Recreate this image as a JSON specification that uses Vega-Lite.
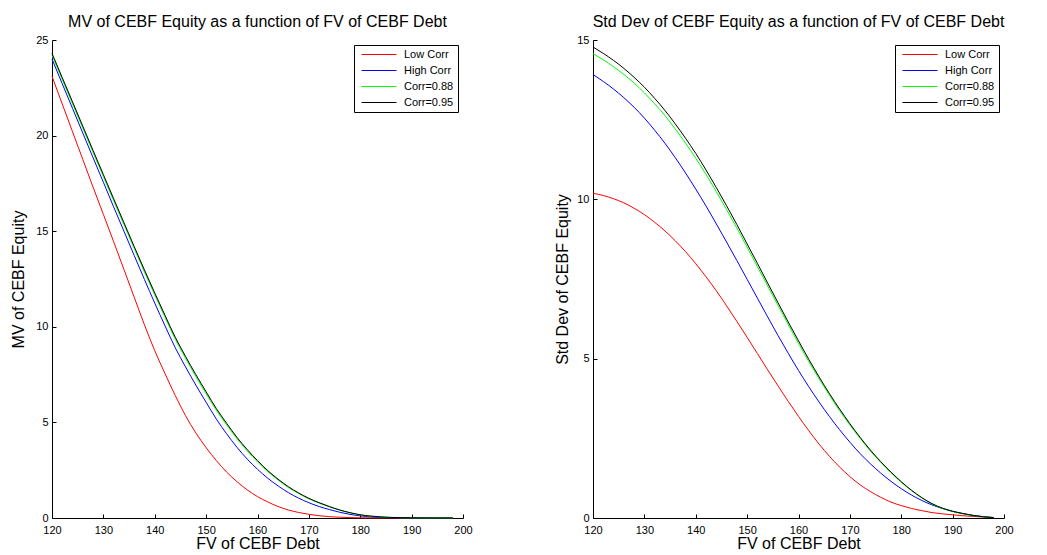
{
"$schema": "https://vega.github.io/schema/vega-lite/v6.json",
"padding": {"left": 10, "top": 14, "right": 0, "bottom": 0},
"background": "white",
"config": {
  "font": "Liberation Sans",
  "view": {"stroke": null},
  "axis": {"domainColor": "black", "tickColor": "black", "labelColor": "black", "titleColor": "black", "grid": false, "labelFont": "Liberation Sans", "labelFontSize": 11, "titleFont": "Liberation Sans", "titleFontSize": 16, "titleFontWeight": "normal", "tickSize": -4, "domainWidth": 1, "tickWidth": 1, "labelFlush": false, "labelOverlap": false},
  "axisX": {"labelPadding": 10, "titlePadding": 0},
  "axisY": {"labelPadding": 8},
  "title": {"fontSize": 16, "fontWeight": "normal", "font": "Liberation Sans", "color": "black", "offset": 4},
  "legend": {"symbolType": "stroke", "symbolSize": 1225, "symbolStrokeWidth": 1, "symbolOffset": 3, "clipHeight": 11, "labelFontSize": 11, "labelFont": "Liberation Sans", "labelColor": "black", "strokeColor": "black", "fillColor": "white", "padding": 4, "offset": 5, "labelOffset": 7, "rowPadding": 4}
},
"datasets": {
"mv": [
{"fv":120,"s":"Low Corr","v":23.1},{"fv":122,"s":"Low Corr","v":21.65},{"fv":124,"s":"Low Corr","v":20.2},{"fv":126,"s":"Low Corr","v":18.75},{"fv":128,"s":"Low Corr","v":17.3},{"fv":130,"s":"Low Corr","v":15.88},{"fv":132,"s":"Low Corr","v":14.45},{"fv":134,"s":"Low Corr","v":13.0},{"fv":136,"s":"Low Corr","v":11.55},{"fv":138,"s":"Low Corr","v":10.1},{"fv":140,"s":"Low Corr","v":8.75},{"fv":142,"s":"Low Corr","v":7.55},{"fv":144,"s":"Low Corr","v":6.4},{"fv":146,"s":"Low Corr","v":5.35},{"fv":148,"s":"Low Corr","v":4.45},{"fv":150,"s":"Low Corr","v":3.68},{"fv":152,"s":"Low Corr","v":3.0},{"fv":154,"s":"Low Corr","v":2.4},{"fv":156,"s":"Low Corr","v":1.9},{"fv":158,"s":"Low Corr","v":1.47},{"fv":160,"s":"Low Corr","v":1.12},{"fv":162,"s":"Low Corr","v":0.84},{"fv":164,"s":"Low Corr","v":0.6},{"fv":166,"s":"Low Corr","v":0.42},{"fv":168,"s":"Low Corr","v":0.29},{"fv":170,"s":"Low Corr","v":0.19},{"fv":172,"s":"Low Corr","v":0.12},{"fv":174,"s":"Low Corr","v":0.07},{"fv":176,"s":"Low Corr","v":0.04},{"fv":178,"s":"Low Corr","v":0.02},{"fv":180,"s":"Low Corr","v":0.01},{"fv":182,"s":"Low Corr","v":0.005},{"fv":184,"s":"Low Corr","v":0.002},{"fv":186,"s":"Low Corr","v":0.001},{"fv":188,"s":"Low Corr","v":0},{"fv":190,"s":"Low Corr","v":0},{"fv":192,"s":"Low Corr","v":0},{"fv":194,"s":"Low Corr","v":0},{"fv":196,"s":"Low Corr","v":0},{"fv":198,"s":"Low Corr","v":0},
{"fv":120,"s":"High Corr","v":24.0},{"fv":122,"s":"High Corr","v":22.71},{"fv":124,"s":"High Corr","v":21.42},{"fv":126,"s":"High Corr","v":20.13},{"fv":128,"s":"High Corr","v":18.84},{"fv":130,"s":"High Corr","v":17.56},{"fv":132,"s":"High Corr","v":16.27},{"fv":134,"s":"High Corr","v":15.0},{"fv":136,"s":"High Corr","v":13.73},{"fv":138,"s":"High Corr","v":12.47},{"fv":140,"s":"High Corr","v":11.24},{"fv":142,"s":"High Corr","v":10.05},{"fv":144,"s":"High Corr","v":8.9},{"fv":146,"s":"High Corr","v":7.9},{"fv":148,"s":"High Corr","v":6.95},{"fv":150,"s":"High Corr","v":6.05},{"fv":152,"s":"High Corr","v":5.17},{"fv":154,"s":"High Corr","v":4.4},{"fv":156,"s":"High Corr","v":3.7},{"fv":158,"s":"High Corr","v":3.08},{"fv":160,"s":"High Corr","v":2.55},{"fv":162,"s":"High Corr","v":2.08},{"fv":164,"s":"High Corr","v":1.68},{"fv":166,"s":"High Corr","v":1.33},{"fv":168,"s":"High Corr","v":1.04},{"fv":170,"s":"High Corr","v":0.8},{"fv":172,"s":"High Corr","v":0.6},{"fv":174,"s":"High Corr","v":0.44},{"fv":176,"s":"High Corr","v":0.3},{"fv":178,"s":"High Corr","v":0.19},{"fv":180,"s":"High Corr","v":0.11},{"fv":182,"s":"High Corr","v":0.06},{"fv":184,"s":"High Corr","v":0.03},{"fv":186,"s":"High Corr","v":0.015},{"fv":188,"s":"High Corr","v":0.008},{"fv":190,"s":"High Corr","v":0.004},{"fv":192,"s":"High Corr","v":0.002},{"fv":194,"s":"High Corr","v":0.001},{"fv":196,"s":"High Corr","v":0},{"fv":198,"s":"High Corr","v":0},
{"fv":120,"s":"Corr=0.88","v":24.2},{"fv":122,"s":"Corr=0.88","v":22.93},{"fv":124,"s":"Corr=0.88","v":21.66},{"fv":126,"s":"Corr=0.88","v":20.39},{"fv":128,"s":"Corr=0.88","v":19.12},{"fv":130,"s":"Corr=0.88","v":17.86},{"fv":132,"s":"Corr=0.88","v":16.6},{"fv":134,"s":"Corr=0.88","v":15.35},{"fv":136,"s":"Corr=0.88","v":14.1},{"fv":138,"s":"Corr=0.88","v":12.87},{"fv":140,"s":"Corr=0.88","v":11.67},{"fv":142,"s":"Corr=0.88","v":10.5},{"fv":144,"s":"Corr=0.88","v":9.35},{"fv":146,"s":"Corr=0.88","v":8.35},{"fv":148,"s":"Corr=0.88","v":7.4},{"fv":150,"s":"Corr=0.88","v":6.5},{"fv":152,"s":"Corr=0.88","v":5.63},{"fv":154,"s":"Corr=0.88","v":4.87},{"fv":156,"s":"Corr=0.88","v":4.15},{"fv":158,"s":"Corr=0.88","v":3.51},{"fv":160,"s":"Corr=0.88","v":2.94},{"fv":162,"s":"Corr=0.88","v":2.43},{"fv":164,"s":"Corr=0.88","v":1.99},{"fv":166,"s":"Corr=0.88","v":1.6},{"fv":168,"s":"Corr=0.88","v":1.28},{"fv":170,"s":"Corr=0.88","v":1.0},{"fv":172,"s":"Corr=0.88","v":0.78},{"fv":174,"s":"Corr=0.88","v":0.58},{"fv":176,"s":"Corr=0.88","v":0.41},{"fv":178,"s":"Corr=0.88","v":0.27},{"fv":180,"s":"Corr=0.88","v":0.16},{"fv":182,"s":"Corr=0.88","v":0.095},{"fv":184,"s":"Corr=0.88","v":0.055},{"fv":186,"s":"Corr=0.88","v":0.03},{"fv":188,"s":"Corr=0.88","v":0.015},{"fv":190,"s":"Corr=0.88","v":0.01},{"fv":192,"s":"Corr=0.88","v":0.005},{"fv":194,"s":"Corr=0.88","v":0.002},{"fv":196,"s":"Corr=0.88","v":0.001},{"fv":198,"s":"Corr=0.88","v":0},
{"fv":120,"s":"Corr=0.95","v":24.3},{"fv":122,"s":"Corr=0.95","v":23.03},{"fv":124,"s":"Corr=0.95","v":21.76},{"fv":126,"s":"Corr=0.95","v":20.49},{"fv":128,"s":"Corr=0.95","v":19.22},{"fv":130,"s":"Corr=0.95","v":17.96},{"fv":132,"s":"Corr=0.95","v":16.7},{"fv":134,"s":"Corr=0.95","v":15.45},{"fv":136,"s":"Corr=0.95","v":14.2},{"fv":138,"s":"Corr=0.95","v":12.97},{"fv":140,"s":"Corr=0.95","v":11.77},{"fv":142,"s":"Corr=0.95","v":10.6},{"fv":144,"s":"Corr=0.95","v":9.45},{"fv":146,"s":"Corr=0.95","v":8.45},{"fv":148,"s":"Corr=0.95","v":7.5},{"fv":150,"s":"Corr=0.95","v":6.6},{"fv":152,"s":"Corr=0.95","v":5.72},{"fv":154,"s":"Corr=0.95","v":4.95},{"fv":156,"s":"Corr=0.95","v":4.22},{"fv":158,"s":"Corr=0.95","v":3.58},{"fv":160,"s":"Corr=0.95","v":3.0},{"fv":162,"s":"Corr=0.95","v":2.48},{"fv":164,"s":"Corr=0.95","v":2.03},{"fv":166,"s":"Corr=0.95","v":1.64},{"fv":168,"s":"Corr=0.95","v":1.31},{"fv":170,"s":"Corr=0.95","v":1.03},{"fv":172,"s":"Corr=0.95","v":0.8},{"fv":174,"s":"Corr=0.95","v":0.6},{"fv":176,"s":"Corr=0.95","v":0.42},{"fv":178,"s":"Corr=0.95","v":0.28},{"fv":180,"s":"Corr=0.95","v":0.17},{"fv":182,"s":"Corr=0.95","v":0.1},{"fv":184,"s":"Corr=0.95","v":0.06},{"fv":186,"s":"Corr=0.95","v":0.03},{"fv":188,"s":"Corr=0.95","v":0.02},{"fv":190,"s":"Corr=0.95","v":0.01},{"fv":192,"s":"Corr=0.95","v":0.005},{"fv":194,"s":"Corr=0.95","v":0.002},{"fv":196,"s":"Corr=0.95","v":0.001},{"fv":198,"s":"Corr=0.95","v":0}
],
"sd": [
{"fv":120,"s":"Low Corr","v":10.19},{"fv":122,"s":"Low Corr","v":10.12},{"fv":124,"s":"Low Corr","v":10.02},{"fv":126,"s":"Low Corr","v":9.89},{"fv":128,"s":"Low Corr","v":9.72},{"fv":130,"s":"Low Corr","v":9.52},{"fv":132,"s":"Low Corr","v":9.28},{"fv":134,"s":"Low Corr","v":9.01},{"fv":136,"s":"Low Corr","v":8.7},{"fv":138,"s":"Low Corr","v":8.36},{"fv":140,"s":"Low Corr","v":7.98},{"fv":142,"s":"Low Corr","v":7.57},{"fv":144,"s":"Low Corr","v":7.13},{"fv":146,"s":"Low Corr","v":6.66},{"fv":148,"s":"Low Corr","v":6.17},{"fv":150,"s":"Low Corr","v":5.67},{"fv":152,"s":"Low Corr","v":5.16},{"fv":154,"s":"Low Corr","v":4.65},{"fv":156,"s":"Low Corr","v":4.15},{"fv":158,"s":"Low Corr","v":3.66},{"fv":160,"s":"Low Corr","v":3.19},{"fv":162,"s":"Low Corr","v":2.74},{"fv":164,"s":"Low Corr","v":2.32},{"fv":166,"s":"Low Corr","v":1.94},{"fv":168,"s":"Low Corr","v":1.6},{"fv":170,"s":"Low Corr","v":1.3},{"fv":172,"s":"Low Corr","v":1.04},{"fv":174,"s":"Low Corr","v":0.83},{"fv":176,"s":"Low Corr","v":0.65},{"fv":178,"s":"Low Corr","v":0.5},{"fv":180,"s":"Low Corr","v":0.39},{"fv":182,"s":"Low Corr","v":0.3},{"fv":184,"s":"Low Corr","v":0.23},{"fv":186,"s":"Low Corr","v":0.17},{"fv":188,"s":"Low Corr","v":0.13},{"fv":190,"s":"Low Corr","v":0.1},{"fv":192,"s":"Low Corr","v":0.07},{"fv":194,"s":"Low Corr","v":0.05},{"fv":196,"s":"Low Corr","v":0.03},{"fv":198,"s":"Low Corr","v":0.02},
{"fv":120,"s":"High Corr","v":13.92},{"fv":122,"s":"High Corr","v":13.7},{"fv":124,"s":"High Corr","v":13.46},{"fv":126,"s":"High Corr","v":13.19},{"fv":128,"s":"High Corr","v":12.89},{"fv":130,"s":"High Corr","v":12.55},{"fv":132,"s":"High Corr","v":12.17},{"fv":134,"s":"High Corr","v":11.76},{"fv":136,"s":"High Corr","v":11.31},{"fv":138,"s":"High Corr","v":10.83},{"fv":140,"s":"High Corr","v":10.32},{"fv":142,"s":"High Corr","v":9.79},{"fv":144,"s":"High Corr","v":9.23},{"fv":146,"s":"High Corr","v":8.66},{"fv":148,"s":"High Corr","v":8.08},{"fv":150,"s":"High Corr","v":7.49},{"fv":152,"s":"High Corr","v":6.9},{"fv":154,"s":"High Corr","v":6.31},{"fv":156,"s":"High Corr","v":5.73},{"fv":158,"s":"High Corr","v":5.17},{"fv":160,"s":"High Corr","v":4.63},{"fv":162,"s":"High Corr","v":4.12},{"fv":164,"s":"High Corr","v":3.64},{"fv":166,"s":"High Corr","v":3.19},{"fv":168,"s":"High Corr","v":2.77},{"fv":170,"s":"High Corr","v":2.38},{"fv":172,"s":"High Corr","v":2.02},{"fv":174,"s":"High Corr","v":1.7},{"fv":176,"s":"High Corr","v":1.41},{"fv":178,"s":"High Corr","v":1.15},{"fv":180,"s":"High Corr","v":0.92},{"fv":182,"s":"High Corr","v":0.72},{"fv":184,"s":"High Corr","v":0.55},{"fv":186,"s":"High Corr","v":0.41},{"fv":188,"s":"High Corr","v":0.3},{"fv":190,"s":"High Corr","v":0.21},{"fv":192,"s":"High Corr","v":0.14},{"fv":194,"s":"High Corr","v":0.08},{"fv":196,"s":"High Corr","v":0.04},{"fv":198,"s":"High Corr","v":0.01},
{"fv":120,"s":"Corr=0.88","v":14.57},{"fv":122,"s":"Corr=0.88","v":14.38},{"fv":124,"s":"Corr=0.88","v":14.16},{"fv":126,"s":"Corr=0.88","v":13.92},{"fv":128,"s":"Corr=0.88","v":13.65},{"fv":130,"s":"Corr=0.88","v":13.34},{"fv":132,"s":"Corr=0.88","v":13.0},{"fv":134,"s":"Corr=0.88","v":12.63},{"fv":136,"s":"Corr=0.88","v":12.21},{"fv":138,"s":"Corr=0.88","v":11.77},{"fv":140,"s":"Corr=0.88","v":11.29},{"fv":142,"s":"Corr=0.88","v":10.78},{"fv":144,"s":"Corr=0.88","v":10.24},{"fv":146,"s":"Corr=0.88","v":9.68},{"fv":148,"s":"Corr=0.88","v":9.1},{"fv":150,"s":"Corr=0.88","v":8.5},{"fv":152,"s":"Corr=0.88","v":7.89},{"fv":154,"s":"Corr=0.88","v":7.28},{"fv":156,"s":"Corr=0.88","v":6.68},{"fv":158,"s":"Corr=0.88","v":6.07},{"fv":160,"s":"Corr=0.88","v":5.48},{"fv":162,"s":"Corr=0.88","v":4.91},{"fv":164,"s":"Corr=0.88","v":4.37},{"fv":166,"s":"Corr=0.88","v":3.86},{"fv":168,"s":"Corr=0.88","v":3.37},{"fv":170,"s":"Corr=0.88","v":2.92},{"fv":172,"s":"Corr=0.88","v":2.5},{"fv":174,"s":"Corr=0.88","v":2.1},{"fv":176,"s":"Corr=0.88","v":1.75},{"fv":178,"s":"Corr=0.88","v":1.42},{"fv":180,"s":"Corr=0.88","v":1.12},{"fv":182,"s":"Corr=0.88","v":0.86},{"fv":184,"s":"Corr=0.88","v":0.63},{"fv":186,"s":"Corr=0.88","v":0.44},{"fv":188,"s":"Corr=0.88","v":0.3},{"fv":190,"s":"Corr=0.88","v":0.2},{"fv":192,"s":"Corr=0.88","v":0.13},{"fv":194,"s":"Corr=0.88","v":0.08},{"fv":196,"s":"Corr=0.88","v":0.04},{"fv":198,"s":"Corr=0.88","v":0.01},
{"fv":120,"s":"Corr=0.95","v":14.78},{"fv":122,"s":"Corr=0.95","v":14.58},{"fv":124,"s":"Corr=0.95","v":14.36},{"fv":126,"s":"Corr=0.95","v":14.11},{"fv":128,"s":"Corr=0.95","v":13.83},{"fv":130,"s":"Corr=0.95","v":13.52},{"fv":132,"s":"Corr=0.95","v":13.17},{"fv":134,"s":"Corr=0.95","v":12.79},{"fv":136,"s":"Corr=0.95","v":12.37},{"fv":138,"s":"Corr=0.95","v":11.92},{"fv":140,"s":"Corr=0.95","v":11.44},{"fv":142,"s":"Corr=0.95","v":10.92},{"fv":144,"s":"Corr=0.95","v":10.37},{"fv":146,"s":"Corr=0.95","v":9.8},{"fv":148,"s":"Corr=0.95","v":9.21},{"fv":150,"s":"Corr=0.95","v":8.6},{"fv":152,"s":"Corr=0.95","v":7.99},{"fv":154,"s":"Corr=0.95","v":7.37},{"fv":156,"s":"Corr=0.95","v":6.76},{"fv":158,"s":"Corr=0.95","v":6.15},{"fv":160,"s":"Corr=0.95","v":5.56},{"fv":162,"s":"Corr=0.95","v":4.98},{"fv":164,"s":"Corr=0.95","v":4.43},{"fv":166,"s":"Corr=0.95","v":3.91},{"fv":168,"s":"Corr=0.95","v":3.42},{"fv":170,"s":"Corr=0.95","v":2.96},{"fv":172,"s":"Corr=0.95","v":2.53},{"fv":174,"s":"Corr=0.95","v":2.13},{"fv":176,"s":"Corr=0.95","v":1.77},{"fv":178,"s":"Corr=0.95","v":1.44},{"fv":180,"s":"Corr=0.95","v":1.14},{"fv":182,"s":"Corr=0.95","v":0.87},{"fv":184,"s":"Corr=0.95","v":0.64},{"fv":186,"s":"Corr=0.95","v":0.45},{"fv":188,"s":"Corr=0.95","v":0.31},{"fv":190,"s":"Corr=0.95","v":0.21},{"fv":192,"s":"Corr=0.95","v":0.14},{"fv":194,"s":"Corr=0.95","v":0.08},{"fv":196,"s":"Corr=0.95","v":0.04},{"fv":198,"s":"Corr=0.95","v":0.01}
]
},
"spacing": 130,
"bounds": "flush",
"resolve": {"scale": {"color": "independent", "y": "independent"}},
"hconcat": [
{
  "title": "MV of CEBF Equity as a function of FV of CEBF Debt",
  "width": 411, "height": 478,
  "data": {"name": "mv"},
  "mark": {"type": "line", "strokeWidth": 1, "interpolate": "monotone"},
  "encoding": {
    "x": {"field": "fv", "type": "quantitative", "scale": {"domain": [120, 200], "nice": false}, "axis": {"values": [120,130,140,150,160,170,180,190,200], "title": "FV of CEBF Debt"}},
    "y": {"field": "v", "type": "quantitative", "scale": {"domain": [0, 25], "nice": false}, "axis": {"values": [0,5,10,15,20,25], "title": "MV of CEBF Equity", "titlePadding": 9}},
    "color": {"field": "s", "type": "nominal", "scale": {"domain": ["Low Corr", "High Corr", "Corr=0.88", "Corr=0.95"], "range": ["#ff0000", "#0000ff", "#00ff00", "#000000"]}, "legend": {"title": null, "orient": "top-right"}}
  }
},
{
  "title": "Std Dev of CEBF Equity as a function of FV of CEBF Debt",
  "width": 411, "height": 478,
  "data": {"name": "sd"},
  "mark": {"type": "line", "strokeWidth": 1, "interpolate": "monotone"},
  "encoding": {
    "x": {"field": "fv", "type": "quantitative", "scale": {"domain": [120, 200], "nice": false}, "axis": {"values": [120,130,140,150,160,170,180,190,200], "title": "FV of CEBF Debt"}},
    "y": {"field": "v", "type": "quantitative", "scale": {"domain": [0, 15], "nice": false}, "axis": {"values": [0,5,10,15], "title": "Std Dev of CEBF Equity", "titlePadding": 6}},
    "color": {"field": "s", "type": "nominal", "scale": {"domain": ["Low Corr", "High Corr", "Corr=0.88", "Corr=0.95"], "range": ["#ff0000", "#0000ff", "#00ff00", "#000000"]}, "legend": {"title": null, "orient": "top-right"}}
  }
}
]
}
